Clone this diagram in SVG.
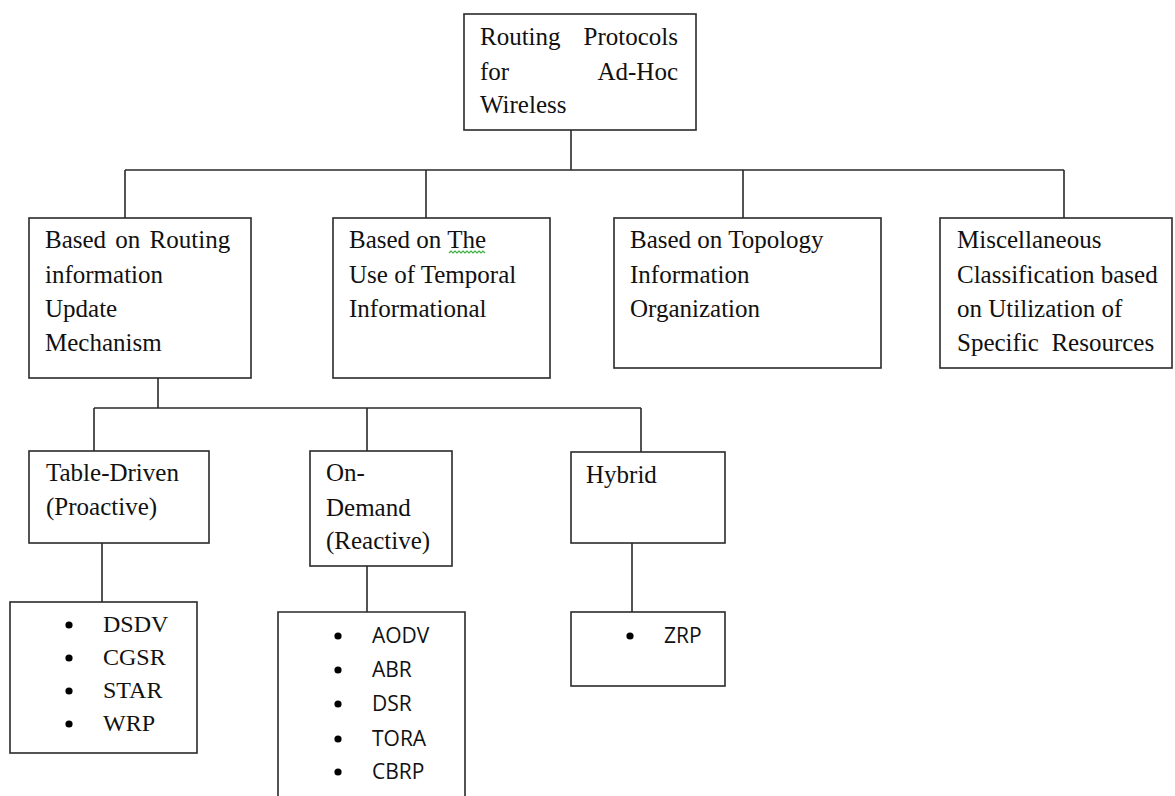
<svg xmlns="http://www.w3.org/2000/svg" width="1175" height="796" viewBox="0 0 1175 796">
<style>
  .box { fill: #ffffff; stroke: #2a2a2a; stroke-width: 1.6; }
  .conn { fill: none; stroke: #2a2a2a; stroke-width: 1.6; }
  .t { font-family: "Liberation Serif", "Times New Roman", serif; font-size: 25px; fill: #111; }
  .li { font-family: "Liberation Serif", "Times New Roman", serif; font-size: 24px; fill: #111; }
  .ls { font-family: "Open Sans", "Noto Sans", sans-serif; font-size: 21px; fill: #111; }
  .dot { fill: #000; }
</style>
<rect width="1175" height="796" fill="#ffffff"/>

<g id="connectors">
  <path class="conn" d="M571 130 V170 M125 170 H1064 M125 170 V218 M426 170 V218 M743 170 V218 M1064 170 V218"/>
  <path class="conn" d="M158 378 V408 M94 408 H641 M94 408 V451 M367 408 V451 M641 408 V452"/>
  <path class="conn" d="M102 543 V602 M367 566 V612 M632 543 V612"/>
</g>

<g id="root">
  <rect class="box" x="464" y="14" width="232" height="116"/>
  <text class="t" x="480" y="45">Routing</text>
  <text class="t" x="678" y="45" text-anchor="end">Protocols</text>
  <text class="t" x="480" y="80">for</text>
  <text class="t" x="678" y="80" text-anchor="end">Ad-Hoc</text>
  <text class="t" x="480" y="113">Wireless</text>
</g>

<g id="routing-update">
  <rect class="box" x="29" y="218" width="222" height="160"/>
  <text class="t" x="45" y="248" word-spacing="3">Based on Routing</text>
  <text class="t" x="45" y="283">information</text>
  <text class="t" x="45" y="317">Update</text>
  <text class="t" x="45" y="351">Mechanism</text>
</g>

<g id="temporal">
  <rect class="box" x="333" y="218" width="217" height="160"/>
  <text class="t" x="349" y="248">Based on The</text>
  <text class="t" x="349" y="283">Use of Temporal</text>
  <text class="t" x="349" y="317">Informational</text>
  <path d="M449 253 l2 -2 l2 2 l2 -2 l2 2 l2 -2 l2 2 l2 -2 l2 2 l2 -2 l2 2 l2 -2 l2 2 l2 -2 l2 2 l2 -2 l2 2 l2 -2 l2 2" fill="none" stroke="#3cb043" stroke-width="1.2"/>
</g>

<g id="topology">
  <rect class="box" x="614" y="218" width="267" height="150"/>
  <text class="t" x="630" y="248">Based on Topology</text>
  <text class="t" x="630" y="283">Information</text>
  <text class="t" x="630" y="317">Organization</text>
</g>

<g id="misc">
  <rect class="box" x="940" y="218" width="232" height="150"/>
  <text class="t" x="957" y="248">Miscellaneous</text>
  <text class="t" x="957" y="283">Classification based</text>
  <text class="t" x="957" y="317">on Utilization of</text>
  <text class="t" x="957" y="351" xml:space="preserve">Specific  Resources</text>
</g>

<g id="table-driven">
  <rect class="box" x="29" y="451" width="180" height="92"/>
  <text class="t" x="46" y="481">Table-Driven</text>
  <text class="t" x="46" y="515">(Proactive)</text>
</g>

<g id="on-demand">
  <rect class="box" x="310" y="451" width="142" height="115"/>
  <text class="t" x="326" y="481">On-</text>
  <text class="t" x="326" y="516">Demand</text>
  <text class="t" x="326" y="549">(Reactive)</text>
</g>

<g id="hybrid">
  <rect class="box" x="571" y="452" width="154" height="91"/>
  <text class="t" x="586" y="483">Hybrid</text>
</g>

<g id="proactive-list">
  <rect class="box" x="10" y="602" width="187" height="151"/>
  <circle class="dot" cx="69" cy="625" r="3.6"/>
  <text class="li" x="103" y="632">DSDV</text>
  <circle class="dot" cx="69" cy="658" r="3.6"/>
  <text class="li" x="103" y="665">CGSR</text>
  <circle class="dot" cx="69" cy="691" r="3.6"/>
  <text class="li" x="103" y="698">STAR</text>
  <circle class="dot" cx="69" cy="724" r="3.6"/>
  <text class="li" x="103" y="731">WRP</text>
</g>

<g id="reactive-list">
  <path class="box" d="M278 800 V612 H465 V800"/>
  <circle class="dot" cx="338" cy="636" r="3.6"/>
  <text class="ls" x="372" y="643">AODV</text>
  <circle class="dot" cx="338" cy="670" r="3.6"/>
  <text class="ls" x="372" y="677">ABR</text>
  <circle class="dot" cx="338" cy="704" r="3.6"/>
  <text class="ls" x="372" y="711">DSR</text>
  <circle class="dot" cx="338" cy="739" r="3.6"/>
  <text class="ls" x="372" y="746">TORA</text>
  <circle class="dot" cx="338" cy="772" r="3.6"/>
  <text class="ls" x="372" y="779">CBRP</text>
</g>

<g id="hybrid-list">
  <rect class="box" x="571" y="612" width="154" height="74"/>
  <circle class="dot" cx="630" cy="636" r="3.6"/>
  <text class="ls" x="664" y="643">ZRP</text>
</g>
</svg>
